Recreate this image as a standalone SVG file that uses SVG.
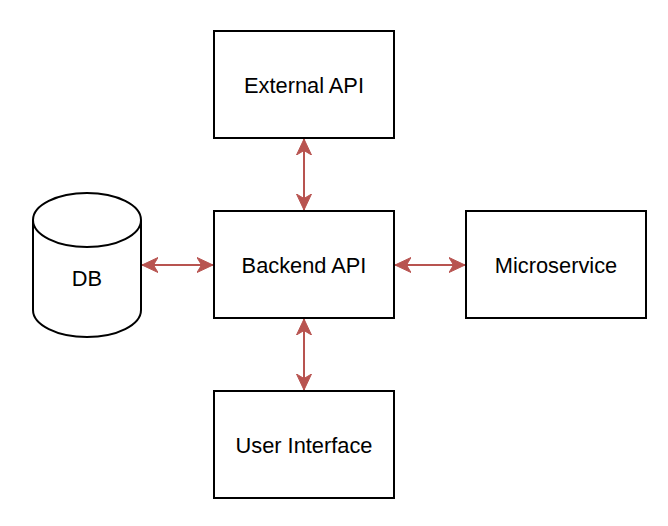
<svg xmlns="http://www.w3.org/2000/svg" width="668" height="526" viewBox="0 0 668 526">
<defs>
<style>
.box{fill:#fff;stroke:#000;stroke-width:2}
.lbl{font-family:"Liberation Sans",Arial,sans-serif;font-size:21.8px;fill:#000;text-anchor:middle}
.conn{stroke:#b85450;stroke-width:2;fill:none}
</style>
<marker id="ah" viewBox="0 0 16 16" refX="16" refY="8" markerWidth="16" markerHeight="16" markerUnits="userSpaceOnUse" orient="auto-start-reverse">
<path d="M0,0.5 L16,8 L0,15.5 L4.5,8 z" fill="#b85450" stroke="#b85450" stroke-width="1"/>
</marker>
</defs>
<rect width="668" height="526" fill="#fff"/>
<g id="connectors">
<line class="conn" x1="304" y1="139" x2="304" y2="210" marker-start="url(#ah)" marker-end="url(#ah)"/>
<line class="conn" x1="304" y1="319" x2="304" y2="390" marker-start="url(#ah)" marker-end="url(#ah)"/>
<line class="conn" x1="142" y1="265" x2="213" y2="265" marker-start="url(#ah)" marker-end="url(#ah)"/>
<line class="conn" x1="395" y1="265" x2="465" y2="265" marker-start="url(#ah)" marker-end="url(#ah)"/>
</g>
<g id="external-api">
<rect class="box" x="214" y="31" width="180" height="107"/>
<text class="lbl" x="304" y="93">External API</text>
</g>
<g id="backend-api">
<rect class="box" x="214" y="211" width="180" height="107"/>
<text class="lbl" x="304" y="273">Backend API</text>
</g>
<g id="microservice">
<rect class="box" x="466" y="211" width="180" height="107"/>
<text class="lbl" x="556" y="273">Microservice</text>
</g>
<g id="user-interface">
<rect class="box" x="214" y="391" width="180" height="107"/>
<text class="lbl" x="304" y="453">User Interface</text>
</g>
<g id="db">
<path class="box" d="M33,220 A54,27 0 0 1 141,220 V310 A54,27 0 0 1 33,310 Z"/>
<path class="box" fill="none" d="M33,220 A54,27 0 0 0 141,220"/>
<text class="lbl" x="87" y="286">DB</text>
</g>
</svg>
